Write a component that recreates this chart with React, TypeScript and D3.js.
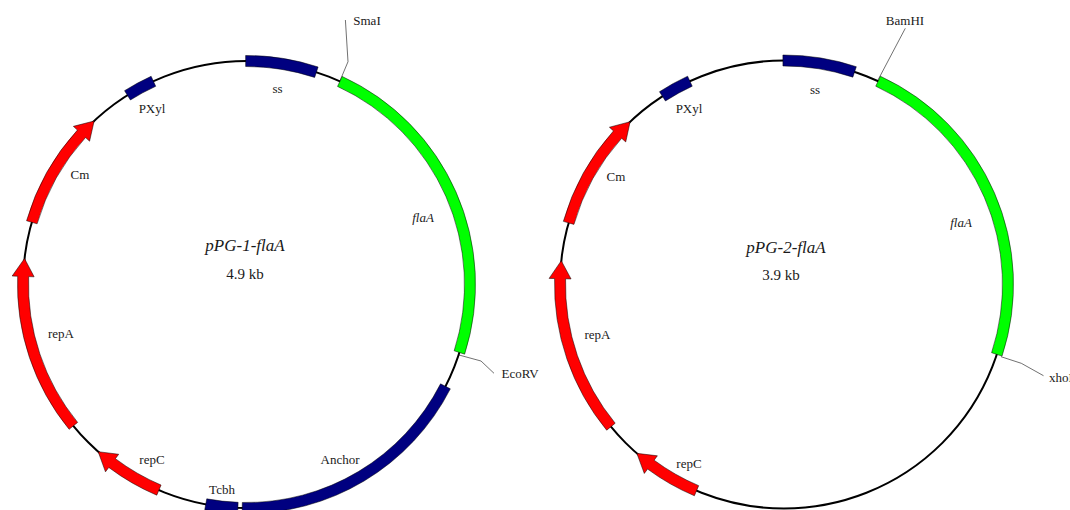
import React from "react";
import * as d3 from "d3";

// ---- data: feature positions in base pairs, clockwise from the top of each ring
const plasmid1Size = 4900;
const plasmid1Names = ["ss", "flaA", "Anchor", "Tcbh", "repC", "repA", "Cm", "PXyl"];
const plasmid1Starts = [4897, 336, 1594, 2480, 2764, 3141, 3895, 4462];
const plasmid1Ends = [248, 1466, 2465, 2593, 3016, 3766, 4315, 4565];
const plasmid1Kinds = ["box", "gene", "box", "box", "arrow", "arrow", "arrow", "box"];

const plasmid2Size = 3900;
const plasmid2Names = ["ss", "flaA", "repC", "repA", "Cm", "PXyl"];
const plasmid2Starts = [3897, 269, 2199, 2498, 3098, 3544];
const plasmid2Ends = [199, 1172, 2395, 2991, 3430, 3631];
const plasmid2Kinds = ["box", "gene", "arrow", "arrow", "arrow", "box"];

const titles = ["pPG-1-flaA", "pPG-2-flaA"];
const sizes = ["4.9 kb", "3.9 kb"];
const sites1 = ["SmaI", "EcoRV"];
const sites2 = ["BamHI", "xhoI"];

// ---- layout
const colors: Record<string, string> = { box: "#000080", gene: "#00ff00", arrow: "#ff0000" };
const halfBar = 5.5;
const headLen = 18;
const headHalf = 11;

type Label = { t: string; x: number; y: number; italic?: boolean; size?: number; anchor?: string };

function arrowPath(a0: number, a1: number, r: number) {
  // a0 = tail, a1 = tip; angles clockwise from 12 o'clock
  const pt = (a: number, rr: number): [number, number] => [rr * Math.sin(a), -rr * Math.cos(a)];
  const base = a1 - headLen / r;
  const p = d3.path();
  const c = (a: number) => a - Math.PI / 2;
  p.arc(0, 0, r + halfBar, c(a0), c(base), false);
  p.lineTo(...pt(base, r + headHalf));
  p.lineTo(...pt(a1, r));
  p.lineTo(...pt(base, r - headHalf));
  p.arc(0, 0, r - halfBar, c(base), c(a0), true);
  p.closePath();
  return p.toString();
}

function Plasmid(props: {
  cx: number; cy: number; r: number; size: number;
  names: string[]; starts: number[]; ends: number[]; kinds: string[];
  labels: Label[]; leaders: [number, number][][];
}) {
  const { cx, cy, r, size, starts, ends, kinds, names, labels, leaders } = props;
  const angle = d3.scaleLinear().domain([0, size]).range([0, 2 * Math.PI]);
  const arc = d3.arc();
  const line = d3.line();
  return (
    <g>
      {leaders.map((l, i) => (
        <path key={i} d={line(l) as string} fill="none" stroke="#333" strokeWidth={0.7} />
      ))}
      <g transform={`translate(${cx},${cy})`}>
        <circle r={r} fill="none" stroke="#000" strokeWidth={2} />
        {names.map((n, i) => {
          let a0 = angle(starts[i]);
          const a1 = angle(ends[i]);
          if (a0 > a1) a0 -= 2 * Math.PI;
          const d =
            kinds[i] === "arrow"
              ? arrowPath(a0, a1, r)
              : (arc({ innerRadius: r - halfBar, outerRadius: r + halfBar, startAngle: a0, endAngle: a1 }) as string);
          return <path key={n} d={d} fill={colors[kinds[i]]} stroke="#000" strokeWidth={0.5} />;
        })}
      </g>
      {labels.map((l, i) => (
        <text
          key={i}
          x={l.x}
          y={l.y}
          textAnchor={l.anchor ?? "middle"}
          fontStyle={l.italic ? "italic" : "normal"}
          fontSize={l.size ?? 13}
          fill="#1a1a1a"
        >
          {l.t}
        </text>
      ))}
    </g>
  );
}

const labels1: Label[] = [
  { t: sites1[0], x: 367, y: 25 },
  { t: plasmid1Names[0], x: 277.5, y: 93 },
  { t: plasmid1Names[7], x: 152, y: 113 },
  { t: plasmid1Names[6], x: 80, y: 179 },
  { t: plasmid1Names[1], x: 423, y: 222, italic: true },
  { t: titles[0], x: 245, y: 251, italic: true, size: 17 },
  { t: sizes[0], x: 245, y: 279, size: 15 },
  { t: plasmid1Names[5], x: 61, y: 338 },
  { t: sites1[1], x: 501.5, y: 378, anchor: "start" },
  { t: plasmid1Names[2], x: 340, y: 464 },
  { t: plasmid1Names[4], x: 152, y: 464 },
  { t: plasmid1Names[3], x: 222, y: 493.5 },
];
const labels2: Label[] = [
  { t: sites2[0], x: 905, y: 25 },
  { t: plasmid2Names[0], x: 815, y: 94 },
  { t: plasmid2Names[5], x: 689, y: 113 },
  { t: plasmid2Names[4], x: 616, y: 181 },
  { t: plasmid2Names[1], x: 961, y: 227, italic: true },
  { t: titles[1], x: 786, y: 253, italic: true, size: 17 },
  { t: sizes[1], x: 781, y: 280, size: 15 },
  { t: plasmid2Names[3], x: 597.5, y: 339 },
  { t: sites2[1], x: 1049, y: 381.5, anchor: "start" },
  { t: plasmid2Names[2], x: 689, y: 467.5 },
];

const leaders1: [number, number][][] = [
  [[339.6, 81.7], [348, 61.7], [345.4, 20]],
  [[459, 355], [481, 361], [494, 373.3]],
];
const leaders2: [number, number][][] = [
  [[878, 80], [905.3, 28.3]],
  [[1001, 356.7], [1021.3, 363.3], [1043.5, 375.7]],
];

export default function App() {
  return (
    <svg
      width={1070}
      height={510}
      viewBox="0 0 1070 510"
      style={{ position: "absolute", left: 0, top: 0, display: "block", background: "#fff" }}
      fontFamily="'Liberation Serif', serif"
    >
      <Plasmid cx={246.5} cy={284.5} r={223.5} size={plasmid1Size} names={plasmid1Names} starts={plasmid1Starts}
        ends={plasmid1Ends} kinds={plasmid1Kinds} labels={labels1} leaders={leaders1} />
      <Plasmid cx={784} cy={284.5} r={224} size={plasmid2Size} names={plasmid2Names} starts={plasmid2Starts}
        ends={plasmid2Ends} kinds={plasmid2Kinds} labels={labels2} leaders={leaders2} />
    </svg>
  );
}
